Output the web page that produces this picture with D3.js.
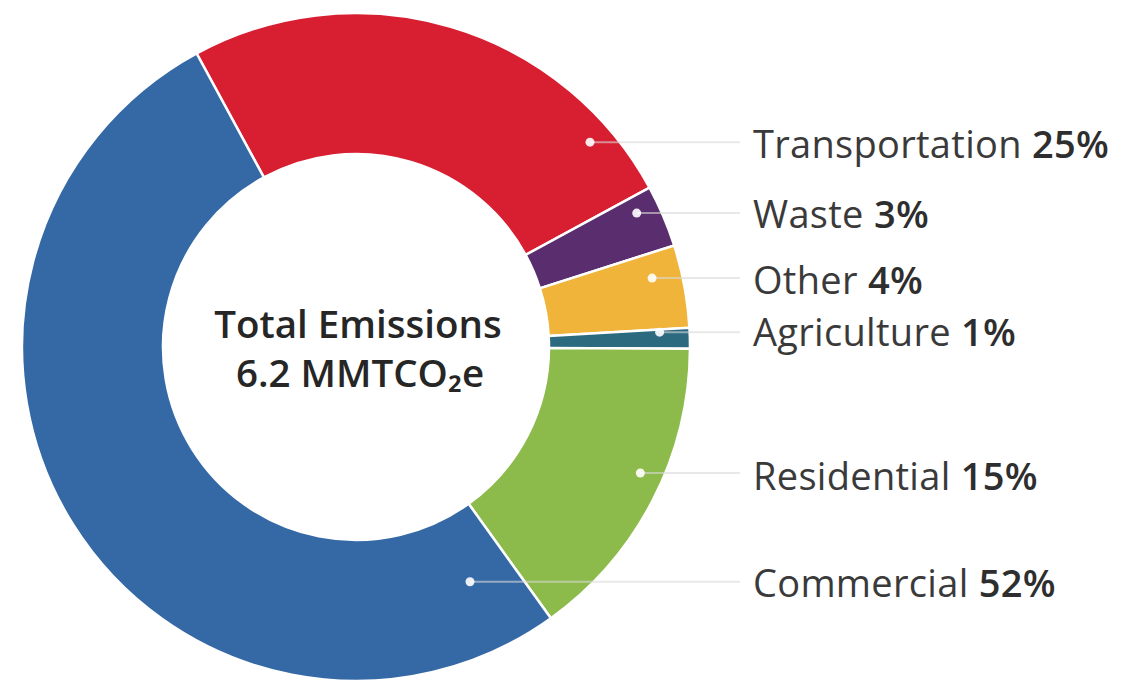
<!DOCTYPE html>
<html>
<head>
<meta charset="utf-8">
<script src="https://cdn.jsdelivr.net/npm/d3@7"></script>
<style>
  html, body { margin: 0; padding: 0; background: #ffffff; }
  svg { display: block; }
</style>
</head>
<body>
<svg id="chart" width="1130" height="684"></svg>
<script>
// Emission sectors, in drawing order (clockwise from the upper left)
const sectors = ["Transportation", "Waste", "Other", "Agriculture", "Residential", "Commercial"];
const shares  = [25, 3, 4, 1, 15, 52];
const colors  = ["#d81e31", "#5a2d6e", "#f0b43b", "#2c6a80", "#8cbb4b", "#3569a6"];
const centerLines = ["Total Emissions", "6.2 MMTCO₂e"];

// Label placement: marker angle (deg) and radius, and label baseline
const labelLayout = {
  Transportation: { angle: 48.8, r: 311, baseline: 158 },
  Waste:          { angle: 64.5, r: 311, baseline: 228 },
  Other:          { angle: 76.9, r: 304, baseline: 294 },
  Agriculture:    { angle: 87.2, r: 304, baseline: 346 },
  Residential:    { angle: 113.9, r: 311, baseline: 490 },
  Commercial:     { angle: 154.1, r: 261, baseline: 597 }
};

const svg = d3.select("#chart");
const cx = 356, cy = 347;
const outerR = 334, innerR = 193;
const labelX = 753, lineEnd = 740;

const data = sectors.map((name, i) => ({ name, value: shares[i], color: colors[i] }));

const start = -28.5 * Math.PI / 180;
const pie = d3.pie().value(d => d.value).sort(null)
  .startAngle(start).endAngle(start + 2 * Math.PI);
const arc = d3.arc().innerRadius(innerR).outerRadius(outerR);

const g = svg.append("g").attr("transform", `translate(${cx},${cy})`);

g.selectAll("path.slice")
  .data(pie(data))
  .join("path")
  .attr("class", "slice")
  .attr("d", arc)
  .attr("fill", d => d.data.color)
  .attr("stroke", "#ffffff")
  .attr("stroke-width", 2.5)
  .attr("stroke-linejoin", "miter");

// polar helper (0 = up, clockwise)
const polar = (deg, r) => {
  const a = deg * Math.PI / 180;
  return [Math.sin(a) * r, -Math.cos(a) * r];
};

const labels = data.map(d => {
  const L = labelLayout[d.name];
  const [x, y] = polar(L.angle, L.r);
  return { ...d, dx: x + cx, dy: y + cy, baseline: L.baseline };
});

// leader lines
svg.selectAll("line.leader")
  .data(labels)
  .join("line")
  .attr("class", "leader")
  .attr("x1", d => d.dx)
  .attr("y1", d => d.dy)
  .attr("x2", lineEnd)
  .attr("y2", d => d.dy)
  .attr("stroke", "#d8d8d8")
  .attr("stroke-opacity", 0.6)
  .attr("stroke-width", 2);

svg.selectAll("circle.marker")
  .data(labels)
  .join("circle")
  .attr("class", "marker")
  .attr("cx", d => d.dx)
  .attr("cy", d => d.dy)
  .attr("r", 4.5)
  .attr("fill", "#ffffff")
  .attr("fill-opacity", 0.9);

const fontFamily = "'Open Sans', 'Noto Sans', sans-serif";

const txt = svg.selectAll("text.label")
  .data(labels)
  .join("text")
  .attr("class", "label")
  .attr("x", labelX)
  .attr("y", d => d.baseline)
  .attr("font-family", fontFamily)
  .attr("font-size", 38)
  .attr("letter-spacing", 0.3)
  .attr("fill", "#3a3a3a");
txt.append("tspan").text(d => d.name + " ");
txt.append("tspan").attr("font-weight", 600).attr("fill", "#2e2e2e").text(d => d.value + "%");

// center caption
const cap = svg.append("text")
  .attr("text-anchor", "middle")
  .attr("font-family", fontFamily)
  .attr("font-weight", 600)
  .attr("font-size", 38.5)
  .attr("fill", "#262626");
cap.append("tspan").attr("x", cx + 2).attr("y", 338).text(centerLines[0]);
cap.append("tspan").attr("x", cx + 4).attr("y", 387).text(centerLines[1]);
</script>
</body>
</html>
